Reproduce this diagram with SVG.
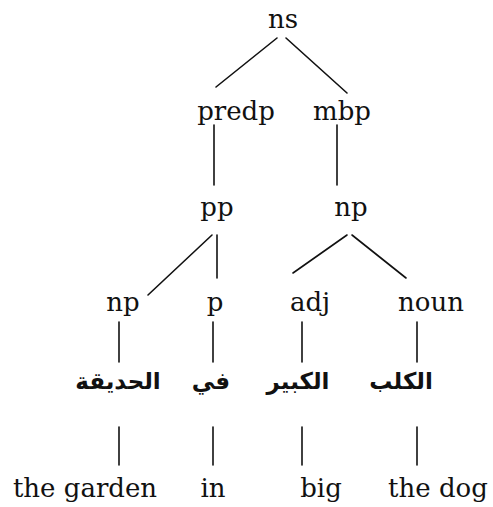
<svg xmlns="http://www.w3.org/2000/svg" width="493" height="507" viewBox="0 0 493 507">
<style>
  .lbl { font-family: "DejaVu Serif", "Liberation Serif", serif; font-size: 26px; fill: #111; text-anchor: middle; }
  .ar { font-family: "DejaVu Sans", sans-serif; font-size: 23px; font-weight: bold; fill: #111; text-anchor: middle; }
  .edge { stroke: #111; stroke-width: 1.6; fill: none; stroke-linecap: round; }
</style>
<rect width="493" height="507" fill="#fff"/>
<g id="connectors">
  <line class="edge" x1="277" y1="38" x2="216" y2="87"/>
  <line class="edge" x1="286" y1="38" x2="347" y2="93"/>
  <line class="edge" x1="214" y1="125" x2="214" y2="185"/>
  <line class="edge" x1="337" y1="125" x2="337" y2="185"/>
  <line class="edge" x1="212" y1="235" x2="148" y2="295"/>
  <line class="edge" x1="217" y1="235" x2="217" y2="278"/>
  <line class="edge" x1="347" y1="235" x2="293" y2="273"/>
  <line class="edge" x1="352" y1="235" x2="406" y2="278"/>
  <line class="edge" x1="119" y1="322" x2="119" y2="362"/>
  <line class="edge" x1="213" y1="322" x2="213" y2="362"/>
  <line class="edge" x1="302" y1="322" x2="302" y2="362"/>
  <line class="edge" x1="417" y1="322" x2="417" y2="362"/>
  <line class="edge" x1="119" y1="427" x2="119" y2="465"/>
  <line class="edge" x1="213" y1="427" x2="213" y2="465"/>
  <line class="edge" x1="302" y1="427" x2="302" y2="465"/>
  <line class="edge" x1="417" y1="427" x2="417" y2="465"/>
</g>
<g id="ns"><text class="lbl" x="283" y="28">ns</text></g>
<g id="predp"><text class="lbl" x="236" y="120">predp</text></g>
<g id="mbp"><text class="lbl" x="342" y="120">mbp</text></g>
<g id="pp"><text class="lbl" x="217" y="216">pp</text></g>
<g id="np2"><text class="lbl" x="351" y="216">np</text></g>
<g id="np1"><text class="lbl" x="123" y="311">np</text></g>
<g id="p"><text class="lbl" x="215" y="311">p</text></g>
<g id="adj"><text class="lbl" x="310" y="311">adj</text></g>
<g id="noun"><text class="lbl" x="431" y="311">noun</text></g>
<g id="ar-garden"><text class="ar" x="118" y="389" direction="rtl">الحديقة</text></g>
<g id="ar-in"><text class="ar" x="211" y="389" direction="rtl">في</text></g>
<g id="ar-big"><text class="ar" x="298" y="389" direction="rtl">الكبير</text></g>
<g id="ar-dog"><text class="ar" x="401" y="389" direction="rtl">الكلب</text></g>
<g id="en-garden"><text class="lbl" x="85" y="497">the garden</text></g>
<g id="en-in"><text class="lbl" x="213" y="497">in</text></g>
<g id="en-big"><text class="lbl" x="321" y="497">big</text></g>
<g id="en-dog"><text class="lbl" x="438" y="497">the dog</text></g>
</svg>
